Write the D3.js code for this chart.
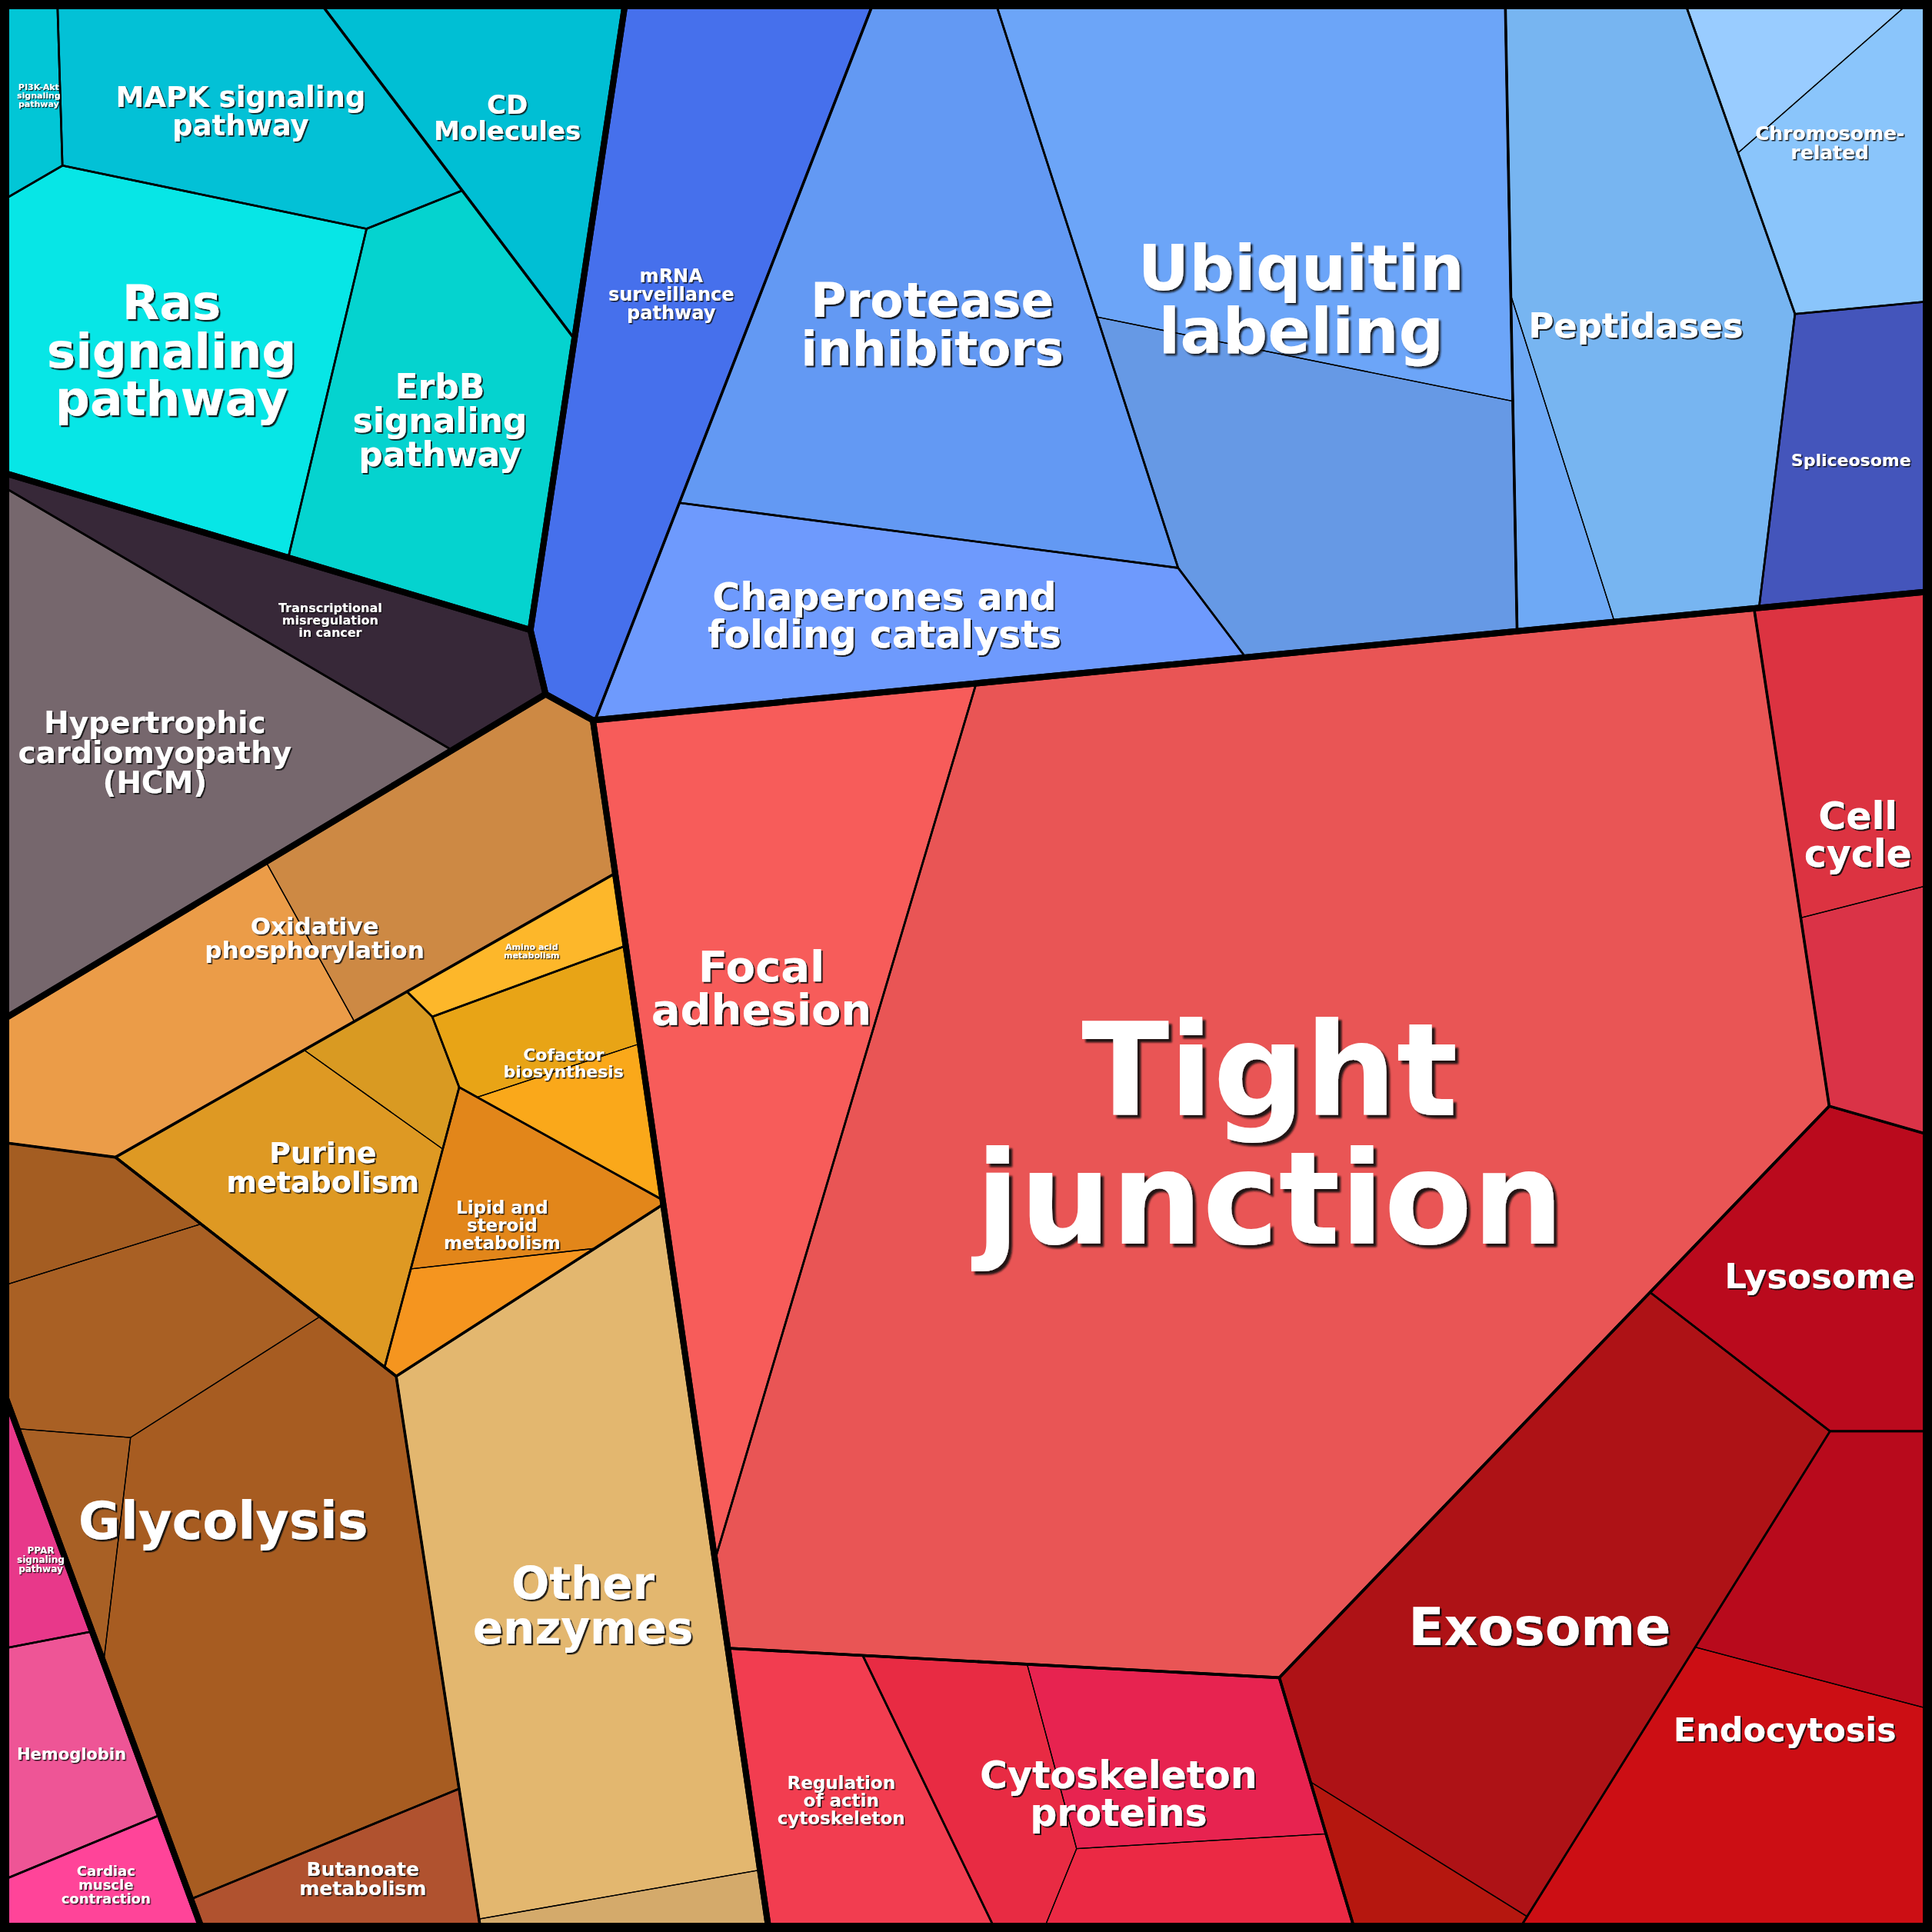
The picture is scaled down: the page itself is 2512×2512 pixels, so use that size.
<!DOCTYPE html>
<html><head><meta charset="utf-8">
<script src="https://cdn.jsdelivr.net/npm/d3@7"></script>
<style>html,body{margin:0;padding:0;background:#000;} svg{display:block}</style>
</head><body>
<svg id="chart" width="2512" height="2512"></svg>
<script>
// ---------------- DATA ----------------
const groups = ["Environmental Information Processing","Genetic Information Processing","Human Diseases","Metabolism","Organismal Systems","Cellular Processes"];

const categories = [
 "PI3K-Akt signaling pathway","MAPK signaling pathway","Ras signaling pathway","ErbB signaling pathway","CD Molecules",
 "mRNA surveillance pathway","Protease inhibitors","Chaperones and folding catalysts","Ubiquitin labeling","Peptidases","Chromosome-related","Spliceosome",
 "Transcriptional misregulation in cancer","Hypertrophic cardiomyopathy (HCM)",
 "Oxidative phosphorylation","Amino acid metabolism","Cofactor biosynthesis","Purine metabolism","Lipid and steroid metabolism","Glycolysis","Butanoate metabolism","Other enzymes",
 "PPAR signaling pathway","Hemoglobin","Cardiac muscle contraction",
 "Focal adhesion","Tight junction","Cell cycle","Lysosome","Exosome","Endocytosis","Regulation of actin cytoskeleton","Cytoskeleton proteins"
];
const categoryGroup = [0,0,0,0,0, 1,1,1,1,1,1,1, 2,2, 3,3,3,3,3,3,3,3, 4,4,4, 5,5,5,5,5,5,5,5];
const categoryCluster = [
 "Signal transduction","Signal transduction","Signal transduction","Signal transduction","",
 "","Protein processing","Protein processing","Protein processing","","","",
 "","",
 "","Biosynthesis","Biosynthesis","Biosynthesis","Biosynthesis","Carbohydrate metabolism","Carbohydrate metabolism","",
 "","","",
 "Cell junctions","Cell junctions","","Transport","Transport","Transport","Cell motility","Cell motility"
];
// values of the sub-cells (leaves) of every category
const leafValues = [
 [6.2],[42.5],[69.2],[55.2],[32.8],
 [74.5],[107.8],[57.5],[105.0,65.7],[88.3,10.7],[10.5,26.2],[28.2],
 [29.0],[77.0],
 [40.2,38.2],[7.5],[11.9,8.7],[34.1,7.9],[16.4,6.8],[11.0,28.3,8.4,94.8],[15.2],[114.6,5.9],
 [7.0],[17.1],[9.4],
 [106.5],[550.5],[29.6,15.8],[38.6],[108.3,8.8],[27.6,53.2],[32.0],[21.7,27.9,15.4]
];

// ---------------- STYLE ----------------
const leafColors = [
 ["#02c6d6"],["#03c1d6"],["#07e6e6"],["#05d3cf"],["#00bfd4"],
 ["#4670ec"],["#6399f3"],["#6e9afd"],["#6ca5f8","#6699e5"],["#77b5f1","#6ea9f5"],["#99ccff","#8ac5fb"],["#4455bb"],
 ["#372838"],["#76676d"],
 ["#cd8944","#eb9c48"],["#fdb72a"],["#e8a416","#faa81a"],["#de9923","#d99a22"],["#e2861a","#f5951f"],["#a45d22","#a96024","#a86025","#a75c21"],["#b0522f"],["#e3b76f","#d4aa6b"],
 ["#e8388a"],["#ee5596"],["#ff4499"],
 ["#f75c5a"],["#e95555"],["#dc3341","#da3347"],["#ba0a1d"],["#ae1216","#b5170f"],["#b80a1c","#cc0e14"],["#f23d50"],["#e82b43","#e72350","#eb2944"]
];
const labelLines = {
 "PI3K-Akt signaling pathway":["PI3K-Akt","signaling","pathway"],
 "MAPK signaling pathway":["MAPK signaling","pathway"],
 "Ras signaling pathway":["Ras","signaling","pathway"],
 "ErbB signaling pathway":["ErbB","signaling","pathway"],
 "CD Molecules":["CD","Molecules"],
 "mRNA surveillance pathway":["mRNA","surveillance","pathway"],
 "Protease inhibitors":["Protease","inhibitors"],
 "Chaperones and folding catalysts":["Chaperones and","folding catalysts"],
 "Ubiquitin labeling":["Ubiquitin","labeling"],
 "Chromosome-related":["Chromosome-","related"],
 "Transcriptional misregulation in cancer":["Transcriptional","misregulation","in cancer"],
 "Hypertrophic cardiomyopathy (HCM)":["Hypertrophic","cardiomyopathy","(HCM)"],
 "Oxidative phosphorylation":["Oxidative","phosphorylation"],
 "Amino acid metabolism":["Amino acid","metabolism"],
 "Cofactor biosynthesis":["Cofactor","biosynthesis"],
 "Purine metabolism":["Purine","metabolism"],
 "Lipid and steroid metabolism":["Lipid and","steroid","metabolism"],
 "Butanoate metabolism":["Butanoate","metabolism"],
 "Other enzymes":["Other","enzymes"],
 "PPAR signaling pathway":["PPAR","signaling","pathway"],
 "Cardiac muscle contraction":["Cardiac","muscle","contraction"],
 "Focal adhesion":["Focal","adhesion"],
 "Tight junction":["Tight","junction"],
 "Cell cycle":["Cell","cycle"],
 "Regulation of actin cytoskeleton":["Regulation","of actin","cytoskeleton"],
 "Cytoskeleton proteins":["Cytoskeleton","proteins"]
};
const labelSize = {
 "PI3K-Akt signaling pathway":11,"MAPK signaling pathway":37,"Ras signaling pathway":63,"ErbB signaling pathway":44,"CD Molecules":34,
 "mRNA surveillance pathway":24,"Protease inhibitors":63,"Chaperones and folding catalysts":49,"Ubiquitin labeling":82,"Peptidases":45,
 "Chromosome-related":25,"Spliceosome":22,"Transcriptional misregulation in cancer":16,"Hypertrophic cardiomyopathy (HCM)":39,
 "Oxidative phosphorylation":31,"Amino acid metabolism":11,"Cofactor biosynthesis":22,"Purine metabolism":38,"Lipid and steroid metabolism":23,
 "Glycolysis":67,"Butanoate metabolism":25,"Other enzymes":58,"PPAR signaling pathway":12,"Hemoglobin":21,"Cardiac muscle contraction":18,
 "Focal adhesion":56,"Tight junction":167,"Cell cycle":49,"Lysosome":45,"Exosome":68,"Endocytosis":43,
 "Regulation of actin cytoskeleton":23,"Cytoskeleton proteins":49
};
// initial site positions for the Voronoi treemap (percent of the frame), like d3-voronoi-treemap's initialPosition
const seedHints = {
 "Environmental Information Processing":[15.3,9.9],"Genetic Information Processing":[63.6,17.2],"Human Diseases":[9.3,30.0],
 "Metabolism":[33.9,71.0],"Organismal Systems":[4.9,81.7],"Cellular Processes":[68.3,66.0],
 "Signal transduction":[13.9,14.3],"CD Molecules":[26.2,5.0],
 "PI3K-Akt signaling pathway":[1.4,5.9],"MAPK signaling pathway":[11.1,5.6],"Ras signaling pathway":[8.5,18.1],"ErbB signaling pathway":[16.9,20.1],
 "mRNA surveillance pathway":[36.6,10.3],"Protein processing":[58.0,18.6],"Peptidases":[84.6,18.1],"Chromosome-related":[97.9,13.4],"Spliceosome":[98.5,19.8],
 "Protease inhibitors":[48.6,22.3],"Chaperones and folding catalysts":[47.4,31.5],"Ubiquitin labeling":[67.8,16.1],
 "Ubiquitin labeling#0":[67.7,9.1],"Ubiquitin labeling#1":[64.5,24.9],
 "Peptidases#0":[87.0,20.7],"Peptidases#1":[80.7,22.7],
 "Chromosome-related#0":[92.2,2.6],"Chromosome-related#1":[97.9,9.1],
 "Transcriptional misregulation in cancer":[15.6,29.7],"Hypertrophic cardiomyopathy (HCM)":[8.5,41.8],
 "Oxidative phosphorylation":[13.9,47.3],"Biosynthesis":[23.5,64.2],"Carbohydrate metabolism":[9.3,82.4],"Other enzymes":[32.9,78.8],
 "Amino acid metabolism":[27.2,49.8],"Cofactor biosynthesis":[29.4,55.8],"Purine metabolism":[16.3,60.8],"Lipid and steroid metabolism":[25.3,63.2],
 "Glycolysis":[10.9,78.5],"Butanoate metabolism":[18.8,97.7],
 "Oxidative phosphorylation#0":[22.7,45.3],"Oxidative phosphorylation#1":[7.9,53.5],
 "Cofactor biosynthesis#0":[28.1,52.6],"Cofactor biosynthesis#1":[30.6,60.2],
 "Purine metabolism#0":[15.4,62.1],"Purine metabolism#1":[20.4,55.1],
 "Lipid and steroid metabolism#0":[25.9,61.5],"Lipid and steroid metabolism#1":[26.6,67.8],
 "Glycolysis#0":[3.7,62.9],"Glycolysis#1":[5.6,69.0],"Glycolysis#2":[4.6,81.9],"Glycolysis#3":[14.6,83.1],
 "Other enzymes#0":[29.7,83.8],"Other enzymes#1":[32.3,98.7],
 "PPAR signaling pathway":[1.4,81.0],"Hemoglobin":[3.3,90.9],"Cardiac muscle contraction":[6.2,97.9],
 "Cell junctions":[61.6,57.4],"Cell cycle":[96.7,52.1],"Transport":[87.9,82.7],"Cell motility":[59.8,91.1],
 "Focal adhesion":[39.5,50.8],"Tight junction":[66.0,58.7],
 "Lysosome":[94.5,66.1],"Exosome":[79.6,85.4],"Endocytosis":[94.5,94.7],
 "Regulation of actin cytoskeleton":[43.5,94.1],"Cytoskeleton proteins":[58.2,87.0],
 "Cell cycle#0":[95.4,38.4],"Cell cycle#1":[98.6,51.0],
 "Exosome#0":[80.2,84.4],"Exosome#1":[72.3,97.1],
 "Endocytosis#0":[96.0,80.6],"Endocytosis#1":[92.1,95.4],
 "Cytoskeleton proteins#0":[51.9,93.8],"Cytoskeleton proteins#1":[61.6,91.2],"Cytoskeleton proteins#2":[62.0,97.9]
};

// ---------------- LAYOUT ----------------
const W = 2512, H = 2512, INSET = 8;
const sx = d3.scaleLinear().domain([0,100]).range([INSET, W-INSET]);
const sy = d3.scaleLinear().domain([0,100]).range([INSET, H-INSET]);

const rootData = {name:"root", kind:"root", children: groups.map(g => ({name:g, kind:"group", children:[]}))};
const clusters = {};
categories.forEach((c, ci) => {
  const gnode = rootData.children[categoryGroup[ci]];
  const cat = {name:c, kind:"category", cat:ci,
    children: leafValues[ci].map((v, li) => ({name:c + "#" + li, kind:"leaf", cat:ci, li, value:v}))};
  const cl = categoryCluster[ci];
  if (cl) {
    if (!clusters[cl]) { clusters[cl] = {name:cl, kind:"cluster", children:[]}; gnode.children.push(clusters[cl]); }
    clusters[cl].children.push(cat);
  } else gnode.children.push(cat);
});
const root = d3.hierarchy(rootData).sum(d => d.kind === "leaf" ? d.value : 0);

function shoelace(p){ let s=0; for(let k=0;k<p.length;k++){const a=p[k],b=p[(k+1)%p.length]; s+=a.x*b.y-b.x*a.y;} return Math.abs(s)/2; }
function clipHalf(poly,a,b,c,label){
  const out=[]; const m=poly.length;
  for(let k=0;k<m;k++){
    const P=poly[k],Q=poly[(k+1)%m];
    const fp=a*P.x+b*P.y-c, fq=a*Q.x+b*Q.y-c;
    const inP=fp<=0, inQ=fq<=0;
    if(inP) out.push(P);
    if(inP!==inQ){
      const t=fp/(fp-fq);
      out.push({x:P.x+t*(Q.x-P.x), y:P.y+t*(Q.y-P.y), e: inP?label:P.e});
    }
  }
  return out;
}
function powerLayout(poly, sites, targets){
  const n=sites.length;
  const base=poly.map(p=>({x:p[0],y:p[1],e:-1}));
  const w=new Array(n).fill(0);
  const dmin=sites.map((s,i)=>d3.min(sites.filter((_,j)=>j!==i),t=>Math.hypot(s[0]-t[0],s[1]-t[1])));
  const cellsOf=()=>sites.map((pi,i)=>{
    let cur=base;
    for(let j=0;j<n&&cur.length;j++){ if(j===i) continue; const pj=sites[j];
      cur=clipHalf(cur,2*(pj[0]-pi[0]),2*(pj[1]-pi[1]),(pj[0]*pj[0]+pj[1]*pj[1])-(pi[0]*pi[0]+pi[1]*pi[1])-w[j]+w[i],j);}
    return cur;});
  let cells=cellsOf();
  for(let it=0;it<5000;it++){
    let worst=0; const dw=new Array(n).fill(0);
    for(let i=0;i<n;i++){
      const c=cells[i]; const A=c.length>=3?shoelace(c):0;
      const err=targets[i]-A; worst=Math.max(worst,Math.abs(err)/targets[i]);
      let D=0;
      for(let k=0;k<c.length;k++){const v=c[k]; if(v.e>=0){const u=c[(k+1)%c.length];
        const L=Math.hypot(u.x-v.x,u.y-v.y); const pj=sites[v.e];
        D+=L/(2*Math.hypot(pj[0]-sites[i][0],pj[1]-sites[i][1]));}}
      const step = D>1e-9 ? 0.5*err/D : Math.sign(err)*0.05*dmin[i]*dmin[i];
      const cap=0.25*dmin[i]*dmin[i];
      dw[i]=Math.max(-cap,Math.min(cap,step));
    }
    if(worst<3e-4) break;
    for(let i=0;i<n;i++) w[i]+=dw[i];
    cells=cellsOf();
  }
  return cells.map(c=>c.map(v=>[v.x,v.y]));
}
function siteFor(node, poly, i){
  const h=seedHints[node.data.name];
  if(h) return [sx(h[0]), sy(h[1])];
  const c=d3.polygonCentroid(poly); return [c[0]+i*3, c[1]+i*2];
}
function layout(node, poly){
  node.polygon=poly;
  const kids=node.children; if(!kids) return;
  if(kids.length===1){ layout(kids[0],poly); return; }
  const area=Math.abs(d3.polygonArea(poly));
  const sites=kids.map((k,i)=>siteFor(k,poly,i));
  const targets=kids.map(k=>area*k.value/node.value);
  const cells=powerLayout(poly,sites,targets);
  kids.forEach((k,i)=>layout(k,cells[i]));
}
layout(root, [[sx(0),sy(0)],[sx(100),sy(0)],[sx(100),sy(100)],[sx(0),sy(100)]]);

// ---------------- DRAW ----------------
const svg=d3.select("#chart");
const defs=svg.append("defs");
svg.append("rect").attr("width",W).attr("height",H).attr("fill","#000");
const line=d3.line().curve(d3.curveLinearClosed);
const nodes=root.descendants();
svg.append("g").selectAll("path").data(root.leaves()).join("path")
  .attr("d",d=>line(d.polygon)).attr("fill",d=>leafColors[d.data.cat][d.data.li]);
const widths={leaf:1.3, category:2.6, cluster:3.6, group:8};
["leaf","category","cluster","group"].forEach(kind=>{
  svg.append("g").selectAll("path").data(nodes.filter(d=>d.data.kind===kind)).join("path")
    .attr("d",d=>line(d.polygon)).attr("fill","none").attr("stroke","#000")
    .attr("stroke-width",widths[kind]).attr("stroke-linejoin","round");
});

const lg=svg.append("g").attr("font-family","DejaVu Sans, Verdana, sans-serif").attr("font-weight","bold").attr("text-anchor","middle");
nodes.filter(d=>d.data.kind==="category").forEach((d,idx)=>{
  const name=d.data.name; const lines=labelLines[name]||[name]; const fs=labelSize[name]||20;
  let [cx,cy]=d3.polygonCentroid(d.polygon);
  const lh=fs*1.0, off=1+fs*0.02;
  const fid="shadow"+idx;
  defs.append("filter").attr("id",fid).attr("x","-20%").attr("y","-20%").attr("width","140%").attr("height","140%")
    .append("feDropShadow").attr("dx",off).attr("dy",off).attr("stdDeviation",0.5+fs*0.004)
    .attr("flood-color","#111").attr("flood-opacity",0.9);
  const t=lg.append("text").attr("font-size",fs).attr("fill","#ffffff").attr("filter",`url(#${fid})`);
  lines.forEach((s,i)=>t.append("tspan").attr("x",0).attr("y",(i-(lines.length-1)/2)*lh+0.36*fs).text(s));
  let wmax=0; t.selectAll("tspan").each(function(){wmax=Math.max(wmax,this.getComputedTextLength());});
  const pad=14;
  cx=Math.max(INSET+pad+wmax/2, Math.min(W-INSET-pad-wmax/2, cx));
  t.attr("transform",`translate(${cx},${cy})`);
});
</script>
</body></html>
